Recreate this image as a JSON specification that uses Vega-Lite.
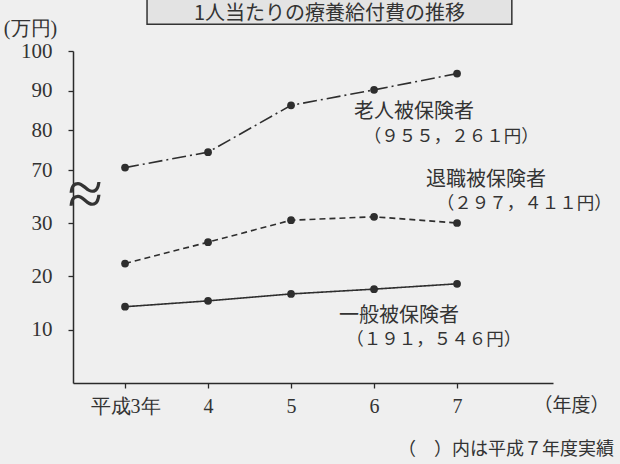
{
  "$schema": "https://vega.github.io/schema/vega-lite/v6.json",
  "width": 480,
  "height": 332,
  "autosize": {"type": "none"},
  "padding": {"left": 73, "top": 51, "right": 67, "bottom": 81},
  "background": "#efefef",
  "config": {
    "view": {"stroke": null},
    "font": "Noto Sans CJK JP",
    "axis": {"domainColor": "#2a2a2a", "tickColor": "#2a2a2a", "domainWidth": 1.5, "tickWidth": 1.3, "grid": false, "labelColor": "#333", "titleColor": "#333", "labelFont": "Liberation Serif", "titleFont": "Liberation Serif", "labelFontWeight": "normal", "titleFontWeight": "normal"}
  },
  "data": {"values": [
    {"series": "老人", "year": 3, "value": 70.6},
    {"series": "老人", "year": 4, "value": 74.5},
    {"series": "老人", "year": 5, "value": 86.3},
    {"series": "老人", "year": 6, "value": 90.2},
    {"series": "老人", "year": 7, "value": 94.3},
    {"series": "退職", "year": 3, "value": 22.4},
    {"series": "退職", "year": 4, "value": 26.4},
    {"series": "退職", "year": 5, "value": 32.1},
    {"series": "退職", "year": 6, "value": 34.7},
    {"series": "退職", "year": 7, "value": 30.0},
    {"series": "一般", "year": 3, "value": 14.3},
    {"series": "一般", "year": 4, "value": 15.4},
    {"series": "一般", "year": 5, "value": 16.7},
    {"series": "一般", "year": 6, "value": 17.6},
    {"series": "一般", "year": 7, "value": 18.6}
  ]},
  "encoding": {
    "x": {"field": "year", "type": "quantitative",
      "scale": {"domain": [2.373, 8.156], "nice": false, "zero": false},
      "axis": {"values": [3, 4, 5, 6, 7], "labelExpr": "datum.value == 3 ? '平成3年' : datum.label", "labelFontSize": 20, "labelPadding": 8, "tickSize": 5, "title": "（年度）", "titleFont": "Noto Sans CJK JP", "titleFontSize": 19, "titleAngle": 0, "titleX": 498, "titleY": 22, "titleAlign": "center", "titleBaseline": "middle"}},
    "y": {"field": "value", "type": "quantitative",
      "scale": {"domain": [0, 30, 70, 100], "range": [332, 172, 119, 0], "nice": false, "zero": false, "clamp": false},
      "axis": {"values": [10, 20, 30, 70, 80, 90, 100], "labelFontSize": 21, "labelPadding": 16, "tickSize": 5, "title": "(万円)", "titleFontSize": 20, "titleAngle": 0, "titleX": -43, "titleY": -23, "titleAlign": "center", "titleBaseline": "middle"}}
  },
  "layer": [
    {"transform": [{"filter": "datum.series == '老人' && datum.year == 3"}],
     "mark": {"type": "rect", "fill": "#e3e3e3", "stroke": "#333", "strokeWidth": 1.5},
     "encoding": {"x": {"datum": 3.265}, "x2": {"datum": 7.66}, "y": {"datum": 106.75}, "y2": {"datum": 125}}},
    {"transform": [{"filter": "datum.series == '老人' && datum.year == 3"}],
     "mark": {"type": "text", "text": "1人当たりの療養給付費の推移", "fontSize": 20, "fontWeight": "normal", "color": "#333", "baseline": "middle", "align": "center"},
     "encoding": {"x": {"datum": 5.464}, "y": {"datum": 109.45}}},
    {"mark": {"type": "line", "color": "#2e2e2e", "strokeWidth": 1.6},
     "encoding": {"detail": {"field": "series"},
       "strokeDash": {"field": "series", "type": "nominal", "scale": {"domain": ["老人", "退職", "一般"], "range": [[14, 4, 2, 4], [6, 4], [1, 0]]}, "legend": null}}},
    {"mark": {"type": "point", "filled": true, "color": "#2e2e2e", "size": 60, "opacity": 1}},
    {"transform": [{"filter": "datum.series == '老人' && datum.year == 3"}],
     "mark": {"type": "text", "text": "≈", "font": "Liberation Serif", "fontSize": 64, "color": "#333", "baseline": "middle", "align": "center"},
     "encoding": {"x": {"datum": 2.52}, "y": {"datum": 50.5}}},
    {"data": {"values": [
      {"label": "老人被保険者", "lx": 6.48, "ly": 84.5, "fs": 20},
      {"label": "（９５５，２６１円）", "lx": 6.93, "ly": 78.25, "fs": 17.5},
      {"label": "退職被保険者", "lx": 7.35, "ly": 62.45, "fs": 20},
      {"label": "（２９７，４１１円）", "lx": 7.81, "ly": 44.3, "fs": 17.5},
      {"label": "一般被保険者", "lx": 6.30, "ly": 12.56, "fs": 20},
      {"label": "（１９１，５４６円）", "lx": 6.72, "ly": 8.06, "fs": 17.5}
    ]},
     "mark": {"type": "text", "color": "#333", "baseline": "middle", "align": "center", "fontWeight": "normal"},
     "encoding": {"x": {"field": "lx", "type": "quantitative"}, "y": {"field": "ly", "type": "quantitative"}, "text": {"field": "label"}, "size": {"field": "fs", "type": "quantitative", "scale": null}}},
    {"transform": [{"filter": "datum.series == '老人' && datum.year == 3"}],
     "mark": {"type": "text", "text": "（　）内は平成７年度実績", "fontSize": 18, "fontWeight": "normal", "color": "#333", "baseline": "middle", "align": "right"},
     "encoding": {"x": {"datum": 8.89}, "y": {"datum": -12.56}}}
  ]
}
